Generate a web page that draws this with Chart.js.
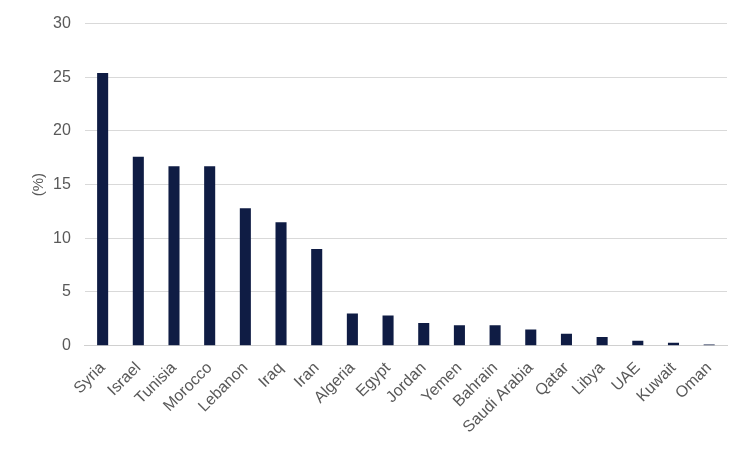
<!DOCTYPE html>
<html>
<head>
<meta charset="utf-8">
<script src="https://cdn.jsdelivr.net/npm/chart.js@4"></script>
<style>
html,body{margin:0;padding:0;background:#fff;}
#wrap{width:750px;height:450px;position:relative;}
</style>
</head>
<body>
<div id="wrap"><canvas id="c"></canvas></div>
<script>
const categories = ["Syria","Israel","Tunisia","Morocco","Lebanon","Iraq","Iran","Algeria","Egypt","Jordan","Yemen","Bahrain","Saudi Arabia","Qatar","Libya","UAE","Kuwait","Oman"];
const values = [25.4,17.6,16.7,16.7,12.8,11.5,9.0,3.0,2.8,2.1,1.9,1.9,1.5,1.1,0.8,0.45,0.28,0.1];
const yTicks = [0,5,10,15,20,25,30];

new Chart(document.getElementById('c'), {
  type: 'bar',
  data: {
    labels: categories,
    datasets: [{
      data: values,
      backgroundColor: '#0f1c44',
      barPercentage: 0.31,
      categoryPercentage: 1.0
    }]
  },
  options: {
    responsive: true,
    maintainAspectRatio: false,
    animation: false,
    layout: { padding: { top: 14, right: 23, left: 30, bottom: 0 } },
    plugins: { legend: { display: false }, tooltip: { enabled: false } },
    scales: {
      x: {
        grid: { display: false, drawTicks: false },
        border: { color: '#d0d0d0', width: 1 },
        ticks: {
          color: '#595959',
          font: { family: 'Liberation Sans, Arial, sans-serif', size: 16 },
          maxRotation: 45, minRotation: 45,
          padding: 13,
          autoSkip: false
        }
      },
      y: {
        min: 0, max: 30,
        afterBuildTicks: (axis) => { axis.ticks = yTicks.map(v => ({ value: v })); },
        grid: { color: '#d9d9d9', drawTicks: false },
        border: { display: false },
        ticks: {
          color: '#595959',
          font: { family: 'Liberation Sans, Arial, sans-serif', size: 16 },
          padding: 14
        },
        title: {
          display: true,
          text: '(%)',
          color: '#595959',
          font: { family: 'Liberation Sans, Arial, sans-serif', size: 15 },
          padding: { top: 0, bottom: -9 }
        }
      }
    }
  }
});
</script>
</body>
</html>
